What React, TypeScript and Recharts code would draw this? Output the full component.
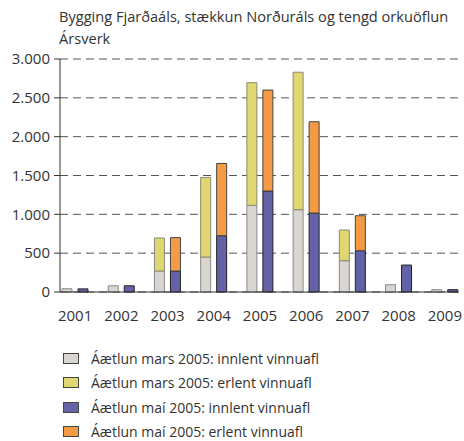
import { BarChart, Bar, XAxis, YAxis, CartesianGrid } from "recharts";

const years = ["2001", "2002", "2003", "2004", "2005", "2006", "2007", "2008", "2009"];
const marsInnlent = [42, 80, 270, 450, 1115, 1060, 403, 94, 30];
const marsErlent = [0, 0, 425, 1025, 1580, 1770, 395, 0, 0];
const maiInnlent = [40, 80, 270, 725, 1300, 1017, 532, 347, 30];
const maiErlent = [0, 0, 430, 930, 1300, 1175, 450, 0, 0];
const yTicks = [0, 500, 1000, 1500, 2000, 2500, 3000];

const data = years.map((y, i) => ({
  year: y,
  marsInnlent: marsInnlent[i],
  marsErlent: marsErlent[i],
  maiInnlent: maiInnlent[i],
  maiErlent: maiErlent[i],
}));

const legend = [
  { label: "Áætlun mars 2005: innlent vinnuafl", fill: "#d9d5d0" },
  { label: "Áætlun mars 2005: erlent vinnuafl", fill: "#e0d672" },
  { label: "Áætlun maí 2005: innlent vinnuafl", fill: "#6462a6" },
  { label: "Áætlun maí 2005: erlent vinnuafl", fill: "#f59a45" },
];

const font = "'Open Sans', sans-serif";
const fmt = (v: number) => v.toLocaleString("de-DE");

export default function App() {
  return (
    <div
      style={{
        position: "absolute",
        left: 0,
        top: 0,
        width: 464,
        height: 441,
        background: "#fff",
        fontFamily: font,
        color: "#333",
      }}
    >
      <div style={{ position: "absolute", left: 59, top: 7, fontSize: 14.6, lineHeight: "18px" }}>
        Bygging Fjarðaáls, stækkun Norðuráls og tengd orkuöflun
      </div>
      <div style={{ position: "absolute", left: 59, top: 29, fontSize: 14.6, lineHeight: "18px" }}>
        Ársverk
      </div>
      <BarChart
        width={464}
        height={330}
        data={data}
        margin={{ top: 59, right: 5, bottom: 8, left: 0 }}
        barSize={10}
        barGap={6}
      >
        <CartesianGrid
          vertical={false}
          strokeDasharray="8 5"
          stroke="#555"
        />
        <XAxis
          dataKey="year"
          tickLine={false}
          axisLine={{ stroke: "#333" }}
          tick={{ fill: "#333", fontSize: 15, fontFamily: font }}
          tickMargin={12}
          height={30}
          padding={{ left: -8, right: -9 }}
        />
        <YAxis
          domain={[0, 3000]}
          ticks={yTicks}
          tickFormatter={fmt}
          width={60}
          tickSize={6}
          tickMargin={4}
          axisLine={{ stroke: "#333" }}
          tickLine={{ stroke: "#333" }}
          tick={{ fill: "#333", fontSize: 15, fontFamily: font }}
        />
        <YAxis
          yAxisId="r"
          orientation="right"
          domain={[0, 3000]}
          width={0}
          tick={false}
          tickLine={false}
          axisLine={{ stroke: "#555" }}
        />
        <Bar dataKey="marsInnlent" stackId="mars" fill="#d9d5d0" stroke="#8a8a8a" isAnimationActive={false} />
        <Bar dataKey="marsErlent" stackId="mars" fill="#e0d672" stroke="#8a8a70" isAnimationActive={false} />
        <Bar dataKey="maiInnlent" stackId="mai" fill="#6462a6" stroke="#222" isAnimationActive={false} />
        <Bar dataKey="maiErlent" stackId="mai" fill="#f59a45" stroke="#444" isAnimationActive={false} />
      </BarChart>
      {legend.map((l, i) => (
        <div
          key={l.label}
          style={{
            position: "absolute",
            left: 63,
            top: 348 + i * 24.6,
            height: 20,
            display: "flex",
            alignItems: "center",
            fontSize: 14,
          }}
        >
          <span
            style={{
              display: "inline-block",
              width: 14,
              height: 9,
              background: l.fill,
              border: "1px solid #444",
              marginRight: 12,
            }}
          />
          {l.label}
        </div>
      ))}
    </div>
  );
}
